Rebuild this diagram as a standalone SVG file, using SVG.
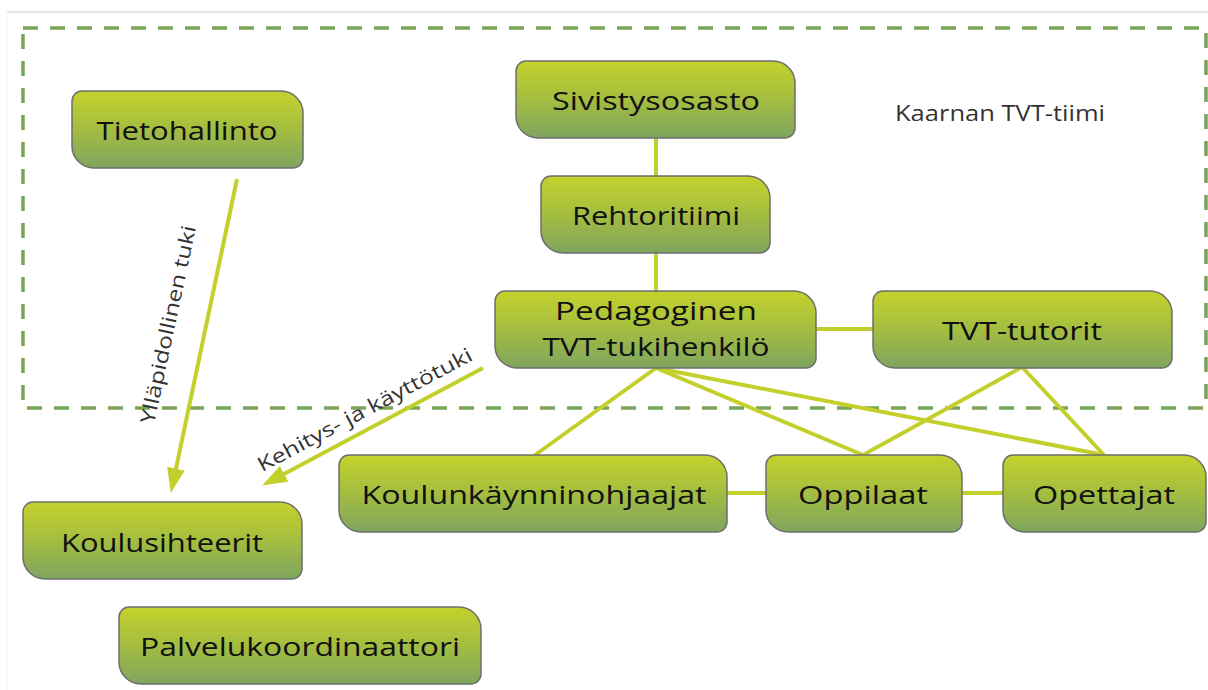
<svg xmlns="http://www.w3.org/2000/svg" width="1208" height="690" viewBox="0 0 1208 690">
<defs>
<linearGradient id="g" x1="0" y1="0" x2="0" y2="1">
<stop offset="0" stop-color="#c4d22c"/>
<stop offset="0.5" stop-color="#a4bd40"/>
<stop offset="1" stop-color="#7ea55f"/>
</linearGradient>
<marker id="arr" markerUnits="userSpaceOnUse" markerWidth="26" markerHeight="18" refX="12" refY="9" orient="auto">
<path d="M0,0 L25,9 L0,18 Z" fill="#c3d02c"/>
</marker>
<style>
.n{fill:url(#g);stroke:#6e6e6e;stroke-width:1.5}
.t{font-family:"Open Sans","Noto Sans",sans-serif;font-size:26px;fill:#111;text-anchor:middle}
.c{stroke:#c3d02c;stroke-width:4;fill:none}
.l{font-family:"Open Sans","Noto Sans",sans-serif;font-size:20px;fill:#333;text-anchor:middle}
</style>
</defs>
<rect width="1208" height="690" fill="#fff"/>
<line x1="7" y1="12" x2="1208" y2="12" stroke="#dcdcdc" stroke-width="1.5"/>
<line x1="7" y1="12" x2="7" y2="690" stroke="#f3f3f3" stroke-width="1"/>
<rect id="team" x="23" y="28" width="1183" height="380" fill="none" stroke="#78a557" stroke-width="3.5" stroke-dasharray="15 12"/>
<text x="895" y="121" font-family="'Open Sans','Noto Sans',sans-serif" font-size="21" fill="#333" textLength="210" lengthAdjust="spacingAndGlyphs">Kaarnan TVT-tiimi</text>

<g id="connectors">
<line class="c" x1="656" y1="138" x2="656" y2="176"/>
<line class="c" x1="656" y1="253" x2="656" y2="291"/>
<line class="c" x1="816" y1="329" x2="873" y2="329"/>
<polyline class="c" points="535,455 656,368 863,455"/>
<line class="c" x1="656" y1="368" x2="1104" y2="455"/>
<polyline class="c" points="863,455 1022,367 1104,455"/>
<line class="c" x1="727" y1="493" x2="766" y2="493"/>
<line class="c" x1="962" y1="493" x2="1003" y2="493"/>
<line class="c" x1="237" y1="179" x2="173.5" y2="480.3" marker-end="url(#arr)"/>
<line class="c" x1="483" y1="368" x2="273.6" y2="479.4" marker-end="url(#arr)"/>
<text class="l" transform="translate(175,326) rotate(-78)" textLength="202" lengthAdjust="spacingAndGlyphs">Ylläpidollinen tuki</text>
<text class="l" transform="translate(368,416) rotate(-28)" textLength="240" lengthAdjust="spacingAndGlyphs">Kehitys- ja käyttötuki</text>
</g>

<g id="tietohallinto">
<path class="n" d="M82,91 H281 A22,22 0 0 1 303,113 V158 A10,10 0 0 1 293,168 H94 A22,22 0 0 1 72,146 V101 A10,10 0 0 1 82,91 Z"/>
<text class="t" x="187" y="140" textLength="181" lengthAdjust="spacingAndGlyphs">Tietohallinto</text>
</g>
<g id="sivistysosasto">
<path class="n" d="M526,61 H773 A22,22 0 0 1 795,83 V128 A10,10 0 0 1 785,138 H538 A22,22 0 0 1 516,116 V71 A10,10 0 0 1 526,61 Z"/>
<text class="t" x="656" y="110" textLength="208" lengthAdjust="spacingAndGlyphs">Sivistysosasto</text>
</g>
<g id="rehtoritiimi">
<path class="n" d="M551,176 H748 A22,22 0 0 1 770,198 V243 A10,10 0 0 1 760,253 H563 A22,22 0 0 1 541,231 V186 A10,10 0 0 1 551,176 Z"/>
<text class="t" x="656" y="225" textLength="168" lengthAdjust="spacingAndGlyphs">Rehtoritiimi</text>
</g>
<g id="pedagoginen">
<path class="n" d="M505,291 H794 A22,22 0 0 1 816,313 V358 A10,10 0 0 1 806,368 H517 A22,22 0 0 1 495,346 V301 A10,10 0 0 1 505,291 Z"/>
<text class="t" x="656" y="320" textLength="202" lengthAdjust="spacingAndGlyphs">Pedagoginen</text>
<text class="t" x="656" y="356" textLength="227" lengthAdjust="spacingAndGlyphs">TVT-tukihenkilö</text>
</g>
<g id="tvt-tutorit">
<path class="n" d="M883,291 H1150 A22,22 0 0 1 1172,313 V358 A10,10 0 0 1 1162,368 H895 A22,22 0 0 1 873,346 V301 A10,10 0 0 1 883,291 Z"/>
<text class="t" x="1022" y="340" textLength="160" lengthAdjust="spacingAndGlyphs">TVT-tutorit</text>
</g>
<g id="koulunkaynninohjaajat">
<path class="n" d="M349,455 H705 A22,22 0 0 1 727,477 V522 A10,10 0 0 1 717,532 H361 A22,22 0 0 1 339,510 V465 A10,10 0 0 1 349,455 Z"/>
<text class="t" x="534" y="504" textLength="345" lengthAdjust="spacingAndGlyphs">Koulunkäynninohjaajat</text>
</g>
<g id="oppilaat">
<path class="n" d="M776,455 H940 A22,22 0 0 1 962,477 V522 A10,10 0 0 1 952,532 H788 A22,22 0 0 1 766,510 V465 A10,10 0 0 1 776,455 Z"/>
<text class="t" x="863" y="504" textLength="130" lengthAdjust="spacingAndGlyphs">Oppilaat</text>
</g>
<g id="opettajat">
<path class="n" d="M1013,455 H1184 A22,22 0 0 1 1206,477 V522 A10,10 0 0 1 1196,532 H1025 A22,22 0 0 1 1003,510 V465 A10,10 0 0 1 1013,455 Z"/>
<text class="t" x="1104" y="504" textLength="142" lengthAdjust="spacingAndGlyphs">Opettajat</text>
</g>
<g id="koulusihteerit">
<path class="n" d="M33,502 H280 A22,22 0 0 1 302,524 V569 A10,10 0 0 1 292,579 H45 A22,22 0 0 1 23,557 V512 A10,10 0 0 1 33,502 Z"/>
<text class="t" x="162" y="552" textLength="202" lengthAdjust="spacingAndGlyphs">Koulusihteerit</text>
</g>
<g id="palvelukoordinaattori">
<path class="n" d="M129,607 H459 A22,22 0 0 1 481,629 V674 A10,10 0 0 1 471,684 H141 A22,22 0 0 1 119,662 V617 A10,10 0 0 1 129,607 Z"/>
<text class="t" x="300" y="656" textLength="320" lengthAdjust="spacingAndGlyphs">Palvelukoordinaattori</text>
</g>
</svg>
